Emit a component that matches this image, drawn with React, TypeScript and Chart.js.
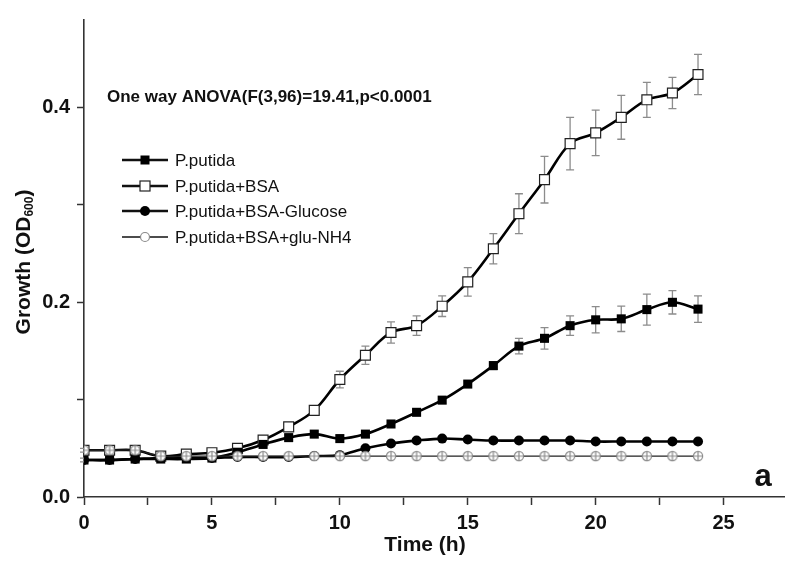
import React, { useEffect, useRef } from 'react';
import { Chart, registerables } from 'chart.js';
Chart.register(...registerables);

const FONT = '"Liberation Sans", Arial, sans-serif';

const times = [0, 1, 2, 3, 4, 5, 6, 7, 8, 9, 10, 11, 12, 13, 14, 15, 16, 17, 18, 19, 20, 21, 22, 23, 24];

const putida = [0.038, 0.038, 0.039, 0.039, 0.039, 0.040, 0.046, 0.054, 0.061, 0.0646, 0.060, 0.0646, 0.075, 0.087, 0.0995, 0.116, 0.135, 0.155, 0.163, 0.176, 0.182, 0.183, 0.1925, 0.200, 0.193];
const putidaErr = [0.002, 0.002, 0.002, 0.002, 0.002, 0.002, 0.002, 0.002, 0.003, 0.003, 0.003, 0.003, 0.003, 0.003, 0.003, 0.003, 0.004, 0.008, 0.011, 0.010, 0.0135, 0.013, 0.016, 0.012, 0.0137];

const bsa = [0.048, 0.048, 0.048, 0.042, 0.044, 0.0455, 0.050, 0.0585, 0.072, 0.089, 0.1207, 0.1456, 0.169, 0.176, 0.196, 0.221, 0.255, 0.291, 0.326, 0.363, 0.374, 0.390, 0.408, 0.415, 0.434];
const bsaErr = [0.002, 0.002, 0.002, 0.002, 0.002, 0.002, 0.003, 0.003, 0.004, 0.004, 0.0085, 0.0094, 0.011, 0.010, 0.0106, 0.0147, 0.0155, 0.0205, 0.024, 0.027, 0.0234, 0.0225, 0.018, 0.016, 0.0206];

const glucose = [0.038, 0.038, 0.039, 0.040, 0.040, 0.040, 0.041, 0.041, 0.041, 0.042, 0.043, 0.050, 0.055, 0.058, 0.060, 0.059, 0.058, 0.058, 0.058, 0.058, 0.057, 0.057, 0.057, 0.057, 0.057];

const nh4 = [0.048, 0.048, 0.048, 0.042, 0.042, 0.042, 0.042, 0.042, 0.042, 0.042, 0.042, 0.042, 0.042, 0.042, 0.042, 0.042, 0.042, 0.042, 0.042, 0.042, 0.042, 0.042, 0.042, 0.042, 0.042];

const seriesLabels = ['P.putida', 'P.putida+BSA', 'P.putida+BSA-Glucose', 'P.putida+BSA+glu-NH4'];
const annotationText = 'One way ANOVA(F(3,96)=19.41,p<0.0001';
const xTitle = 'Time (h)';
const panelLetter = 'a';

function makeCirclePlus(): HTMLCanvasElement {
  const c = document.createElement('canvas');
  c.width = 12;
  c.height = 12;
  const g = c.getContext('2d')!;
  g.beginPath();
  g.arc(6, 6, 4.6, 0, Math.PI * 2);
  g.fillStyle = '#ffffff';
  g.fill();
  g.strokeStyle = '#8a8a8a';
  g.lineWidth = 1.2;
  g.stroke();
  g.beginPath();
  g.moveTo(6, 1.4);
  g.lineTo(6, 10.6);
  g.moveTo(1.4, 6);
  g.lineTo(10.6, 6);
  g.stroke();
  return c;
}

export default function App() {
  const ref = useRef<HTMLCanvasElement>(null);
  useEffect(() => {
    document.body.style.margin = '0';
    document.body.style.overflow = 'hidden';
    const canvas = ref.current!;
    const circlePlus = makeCirclePlus();
    const pts = (arr: number[]) => times.map((t, i) => ({ x: t, y: arr[i] }));

    const errorBars = {
      id: 'errorBars',
      beforeDatasetsDraw(chart: any) {
        const ctx = chart.ctx;
        const xs = chart.scales.x;
        const ys = chart.scales.y;
        ctx.save();
        ctx.strokeStyle = '#8c8c8c';
        ctx.lineWidth = 1.3;
        const draw = (vals: number[], errs: number[]) => {
          times.forEach((t, i) => {
            const px = xs.getPixelForValue(t);
            const top = ys.getPixelForValue(vals[i] + errs[i]);
            const bot = ys.getPixelForValue(vals[i] - errs[i]);
            ctx.beginPath();
            ctx.moveTo(px, top);
            ctx.lineTo(px, bot);
            ctx.moveTo(px - 4, top);
            ctx.lineTo(px + 4, top);
            ctx.moveTo(px - 4, bot);
            ctx.lineTo(px + 4, bot);
            ctx.stroke();
          });
        };
        draw(bsa, bsaErr);
        draw(putida, putidaErr);
        ctx.restore();
      },
    };

    const decorations = {
      id: 'decorations',
      afterDraw(chart: any) {
        const ctx = chart.ctx;
        ctx.save();
        // annotation
        ctx.fillStyle = '#111';
        ctx.font = `bold 17px ${FONT}`;
        ctx.textAlign = 'left';
        ctx.textBaseline = 'middle';
        ctx.fillText(annotationText, 107, 97);

        // legend
        const rows = [160, 186, 211, 237];
        rows.forEach((ry, i) => {
          ctx.beginPath();
          ctx.strokeStyle = '#111';
          ctx.lineWidth = i === 3 ? 1.3 : 2.6;
          ctx.moveTo(122, ry);
          ctx.lineTo(168, ry);
          ctx.stroke();
          const mx = 145;
          if (i === 0) {
            ctx.fillStyle = '#000';
            ctx.fillRect(mx - 4.5, ry - 4.5, 9, 9);
          } else if (i === 1) {
            ctx.fillStyle = '#fff';
            ctx.fillRect(mx - 5, ry - 5, 10, 10);
            ctx.strokeStyle = '#222';
            ctx.lineWidth = 1.2;
            ctx.strokeRect(mx - 5, ry - 5, 10, 10);
          } else if (i === 2) {
            ctx.beginPath();
            ctx.fillStyle = '#000';
            ctx.arc(mx, ry, 5, 0, Math.PI * 2);
            ctx.fill();
          } else {
            ctx.beginPath();
            ctx.fillStyle = '#fff';
            ctx.arc(mx, ry, 4.5, 0, Math.PI * 2);
            ctx.fill();
            ctx.strokeStyle = '#8a8a8a';
            ctx.lineWidth = 1.2;
            ctx.stroke();
          }
          ctx.fillStyle = '#111';
          ctx.font = `17px ${FONT}`;
          ctx.textAlign = 'left';
          ctx.textBaseline = 'middle';
          ctx.fillText(seriesLabels[i], 175, ry + 1);
        });

        // x title
        ctx.fillStyle = '#111';
        ctx.font = `bold 21px ${FONT}`;
        ctx.textAlign = 'center';
        ctx.textBaseline = 'middle';
        ctx.fillText(xTitle, 425, 545);

        // y title with subscript
        ctx.translate(24, 262);
        ctx.rotate(-Math.PI / 2);
        const big = `bold 21px ${FONT}`;
        const small = `bold 12px ${FONT}`;
        ctx.font = big;
        const w1 = ctx.measureText('Growth (OD').width;
        const w3 = ctx.measureText(')').width;
        ctx.font = small;
        const w2 = ctx.measureText('600').width;
        let sx = -(w1 + w2 + w3) / 2;
        ctx.textAlign = 'left';
        ctx.textBaseline = 'middle';
        ctx.font = big;
        ctx.fillText('Growth (OD', sx, 0);
        sx += w1;
        ctx.font = small;
        ctx.fillText('600', sx, 6);
        sx += w2;
        ctx.font = big;
        ctx.fillText(')', sx, 0);
        ctx.setTransform(1, 0, 0, 1, 0, 0);

        // panel letter
        ctx.fillStyle = '#111';
        ctx.font = `bold 31px ${FONT}`;
        ctx.textAlign = 'center';
        ctx.textBaseline = 'middle';
        ctx.fillText(panelLetter, 763, 477);
        ctx.restore();
      },
    };

    const chart = new Chart(canvas, {
      type: 'line',
      data: {
        datasets: [
          {
            label: seriesLabels[3],
            data: pts(nh4),
            borderColor: '#222',
            borderWidth: 1.3,
            pointStyle: circlePlus as any,
            pointRadius: 5,
            tension: 0.35,
          },
          {
            label: seriesLabels[2],
            data: pts(glucose),
            borderColor: '#000',
            borderWidth: 2.6,
            pointStyle: 'circle',
            pointRadius: 5,
            pointBackgroundColor: '#000',
            pointBorderColor: '#000',
            pointBorderWidth: 0,
            tension: 0.35,
          },
          {
            label: seriesLabels[0],
            data: pts(putida),
            borderColor: '#000',
            borderWidth: 2.6,
            pointStyle: 'rect',
            pointRadius: 6.4,
            pointBackgroundColor: '#000',
            pointBorderColor: '#000',
            pointBorderWidth: 0,
            tension: 0.35,
          },
          {
            label: seriesLabels[1],
            data: pts(bsa),
            borderColor: '#000',
            borderWidth: 2.6,
            pointStyle: 'rect',
            pointRadius: 7,
            pointBackgroundColor: '#fff',
            pointBorderColor: '#222',
            pointBorderWidth: 1.2,
            tension: 0.35,
          },
        ],
      },
      options: {
        animation: false,
        responsive: false,
        layout: { autoPadding: false, padding: { top: 20, right: 0, left: 0, bottom: 0 } },
        plugins: { legend: { display: false }, tooltip: { enabled: false } },
        scales: {
          x: {
            type: 'linear',
            min: 0,
            max: 27.4,
            afterBuildTicks: (axis: any) => {
              const out = [];
              for (let v = 0; v <= 25; v += 2.5) out.push({ value: v });
              axis.ticks = out;
            },
            afterFit: (axis: any) => {
              axis.height = 68;
              axis.paddingRight = 0;
              axis.paddingLeft = 0;
            },
            ticks: {
              autoSkip: false,
              maxRotation: 0,
              padding: 6,
              color: '#111',
              font: { family: FONT, size: 20, weight: 'bold' },
              callback: (v: any) => (Number(v) % 5 === 0 ? String(v) : ''),
            },
            grid: { drawOnChartArea: false, drawTicks: true, tickLength: 8, color: '#333', tickWidth: 1.5 },
            border: { color: '#333', width: 1.6 },
          },
          y: {
            type: 'linear',
            min: 0,
            max: 0.49,
            afterBuildTicks: (axis: any) => {
              axis.ticks = [0, 0.1, 0.2, 0.3, 0.4].map((v) => ({ value: v }));
            },
            afterFit: (axis: any) => {
              axis.width = 84;
              axis.paddingTop = 0;
              axis.paddingBottom = 0;
            },
            ticks: {
              autoSkip: false,
              padding: 7,
              color: '#111',
              font: { family: FONT, size: 20, weight: 'bold' },
              callback: (v: any) => {
                const n = Math.round(Number(v) * 10);
                return n % 2 === 0 ? (n / 10).toFixed(1) : '';
              },
            },
            grid: { drawOnChartArea: false, drawTicks: true, tickLength: 7, color: '#333', tickWidth: 1.5 },
            border: { color: '#333', width: 1.6 },
          },
        },
      },
      plugins: [errorBars, decorations],
    } as any);
    return () => chart.destroy();
  }, []);
  return (
    <div style={{ width: 785, height: 565, background: '#fff', overflow: 'hidden' }}>
      <canvas ref={ref} width={785} height={565} style={{ display: 'block', width: 785, height: 565 }} />
    </div>
  );
}
